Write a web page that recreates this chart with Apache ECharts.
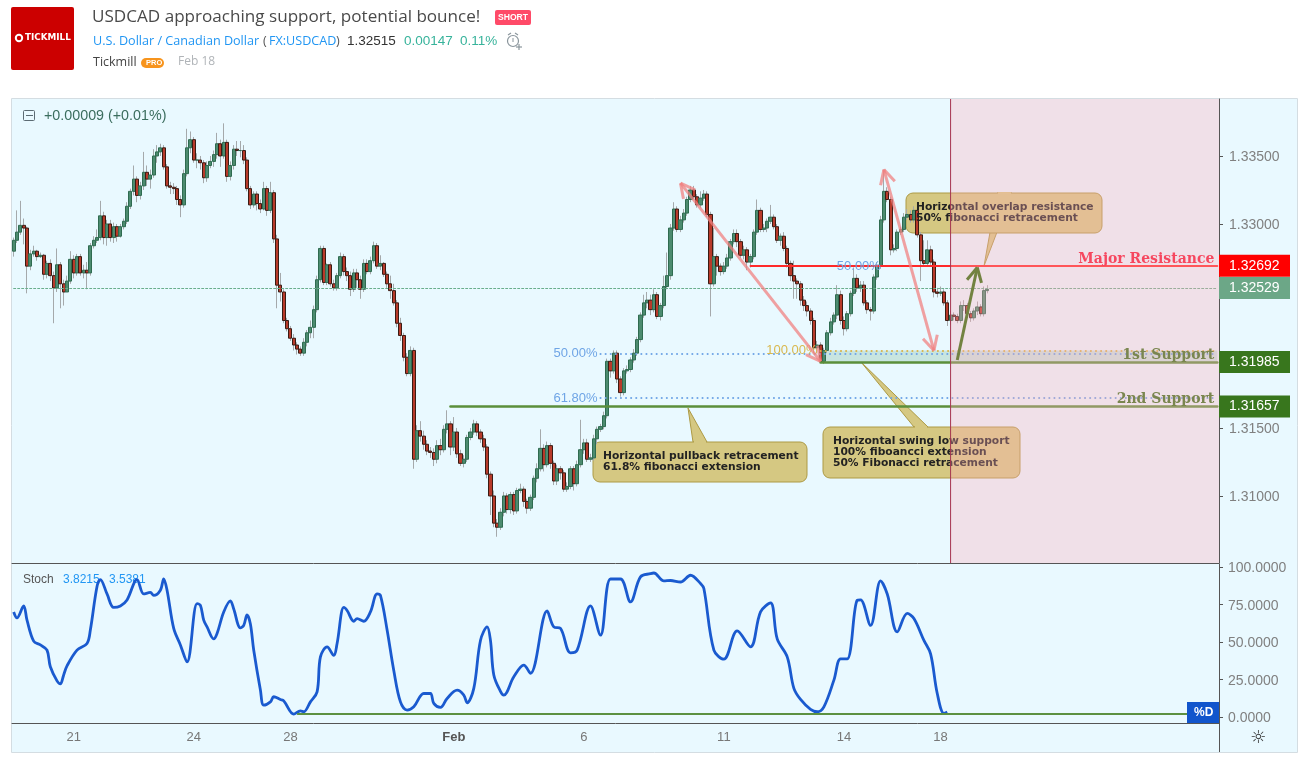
<!DOCTYPE html>
<html>
<head>
<meta charset="utf-8">
<title>USDCAD</title>
<style>html,body{margin:0;padding:0;background:#fff}#main{width:1304px;height:758px}</style>
</head>
<body>
<div id="main"></div>
<script src="https://cdn.jsdelivr.net/npm/echarts@6/dist/echarts.min.js"></script>
<script>
// 2h bars, prices x 10000
var opens = [
13280,13288,13294,13299,13297,13269,13278,13280,13276,13277,
13263,13271,13262,13253,13270,13256,13250,13258,13274,13264,
13276,13264,13266,13264,13284,13288,13290,13306,13290,13300,
13290,13298,13291,13298,13302,13313,13324,13333,13321,13328,
13338,13333,13336,13350,13353,13356,13342,13328,13327,13326,
13318,13314,13337,13356,13362,13347,13347,13345,13334,13343,
13346,13351,13359,13350,13360,13335,13343,13355,13354,13354,
13347,13326,13314,13322,13315,13311,13326,13310,13323,13289,
13255,13250,13229,13223,13216,13211,
13208,13205,13213,13220,13224,13237,13259,13282,13257,13270,
13256,13253,13262,13276,13265,13262,13252,13264,13259,13252,
13271,13265,13273,13284,13269,13271,13263,13256,13251,13242,
13227,13218,13202,13190,13207,13127,13148,13144,13138,13133,
13132,13127,13137,13134,13149,13153,13136,13147,13131,13124,
13127,13143,13147,13153,13147,13142,13136,13116,13100,13080,
13077,13088,13100,13090,13101,13089,13104,13105,13096,13091,
13099,13113,13120,13135,13123,13137,13124,13111,13120,13117,
13105,13107,13120,13109,13123,13134,13139,13127,13128,13142,
13149,13151,13159,
13199,13192,13205,13186,13176,13192,13193,13200,13205,
13215,13233,13242,13244,13237,13248,13232,13240,13254,13262,
13297,13311,13296,13303,13308,13318,13325,13320,13314,13319,
13322,13307,13256,13276,13269,13265,13269,13275,13287,13293,
13287,13277,13281,13272,13276,13294,13310,13296,13297,13302,
13305,13298,13288,13291,13282,13271,13262,13258,13256,13244,
13240,13236,13229,13209,13211,13199,13207,13220,13228,13233,
13248,13229,13223,13234,13249,13260,13253,13255,13242,13237,
13236,13261,13269,13303,13324,13318,13281,13282,13294,13296,
13305,13307,13303,13310,13292,13273,13271,13281,13272,13250,
13249,13250,13242,13229,13233,13232,13229,13240,13240,13234,
13231,13236,13239,13234,13251
];
var closes = [
13288,13294,13299,13297,13269,13278,13280,13276,13277,13263,
13271,13262,13253,13270,13256,13250,13258,13274,13264,13276,
13264,13266,13264,13284,13288,13290,13306,13290,13300,13290,
13298,13291,13298,13302,13313,13324,13333,13321,13328,13338,
13333,13336,13350,13353,13356,13342,13328,13327,13326,13318,
13314,13337,13356,13362,13347,13347,13345,13334,13343,13346,
13351,13359,13350,13360,13335,13343,13355,13354,13354,13347,
13326,13314,13322,13315,13311,13326,13310,13323,13289,13255,
13250,13229,13223,13216,13211,13208,
13205,13213,13220,13224,13237,13259,13282,13257,13270,13256,
13253,13262,13276,13265,13262,13252,13264,13259,13252,13271,
13265,13273,13284,13269,13271,13263,13256,13251,13242,13227,
13218,13202,13190,13207,13127,13148,13144,13138,13133,13132,
13127,13137,13134,13149,13153,13136,13147,13131,13124,13127,
13143,13147,13153,13147,13142,13136,13116,13100,13080,13077,
13088,13100,13090,13101,13089,13104,13105,13096,13091,13099,
13113,13120,13135,13123,13137,13124,13111,13120,13117,13105,
13107,13120,13109,13123,13134,13139,13127,13128,13142,13149,
13151,13159,13199,
13192,13205,13186,13176,13192,13193,13200,13205,13215,
13233,13242,13244,13237,13248,13232,13240,13254,13262,13297,
13311,13296,13303,13308,13318,13325,13320,13314,13319,13322,
13307,13256,13276,13269,13265,13269,13275,13287,13293,13287,
13277,13281,13272,13276,13294,13310,13296,13297,13302,13305,
13298,13288,13291,13282,13271,13262,13258,13256,13244,13240,
13236,13229,13209,13211,13199,13207,13220,13228,13233,13248,
13229,13223,13234,13249,13260,13253,13255,13242,13237,13236,
13261,13269,13303,13324,13318,13281,13282,13294,13296,13305,
13307,13303,13310,13292,13273,13271,13281,13272,13250,13249,
13250,13242,13229,13233,13232,13229,13240,13240,13234,13231,
13236,13239,13234,13251,13252
];
var lows = [
13276,13286,13292,13285,13249,13266,13276,13273,13275,13259,
13260,13258,13227,13250,13238,13240,13254,13256,13260,13262,
13262,13260,13252,13262,13282,13286,13288,13285,13284,13287,
13286,13287,13290,13296,13300,13311,13321,13316,13318,13325,
13328,13326,13334,13345,13350,13340,13326,13322,13322,13314,
13305,13312,13335,13352,13345,13341,13340,13330,13331,13341,
13342,13348,13342,13348,13331,13332,13340,13350,13349,13344,
13324,13311,13312,13310,13308,13310,13306,13308,13286,13238,
13243,13227,13221,13214,13207,13204,
13203,13203,13210,13216,13216,13235,13257,13255,13255,13254,
13251,13251,13260,13262,13258,13247,13250,13253,13245,13250,
13263,13263,13271,13267,13266,13261,13253,13245,13240,13224,
13214,13199,13188,13188,13120,13125,13140,13134,13130,13128,
13122,13124,13130,13132,13146,13130,13133,13128,13122,13121,
13125,13141,13145,13144,13139,13133,13113,13086,13077,13070,
13075,13085,13087,13087,13086,13087,13102,13092,13087,13089,
13097,13110,13118,13118,13121,13120,13108,13108,13112,13103,
13103,13105,13104,13107,13121,13131,13125,13125,13126,13138,
13147,13149,13157,
13187,13190,13183,13173,13174,13190,13191,13198,13203,
13213,13231,13238,13233,13235,13230,13229,13238,13252,13259,
13295,13294,13294,13301,13306,13316,13318,13312,13312,13317,
13305,13232,13254,13262,13262,13263,13267,13273,13285,13283,
13275,13274,13266,13268,13274,13292,13294,13294,13294,13300,
13296,13286,13284,13280,13268,13258,13245,13245,13240,13236,
13232,13226,13205,13205,13198,13197,13205,13218,13226,13230,
13226,13218,13221,13232,13247,13250,13250,13240,13234,13229,
13234,13259,13267,13301,13316,13277,13279,13280,13292,13294,
13303,13301,13301,13290,13258,13269,13269,13270,13246,13246,
13247,13240,13225,13226,13229,13227,13227,13236,13231,13228,
13229,13233,13232,13232,13249
];
var highs = [
13290,13310,13317,13304,13298,13281,13284,13281,13279,13278,
13273,13274,13265,13282,13272,13259,13262,13280,13277,13278,
13278,13270,13272,13286,13291,13296,13317,13309,13303,13303,
13301,13300,13300,13304,13316,13326,13343,13335,13331,13353,
13343,13340,13355,13358,13359,13358,13344,13331,13330,13328,
13321,13340,13370,13368,13364,13352,13350,13347,13346,13350,
13354,13367,13362,13374,13362,13346,13358,13361,13361,13358,
13349,13328,13324,13324,13318,13331,13328,13331,13325,13292,
13264,13252,13231,13225,13219,13213,
13210,13216,13222,13229,13240,13262,13284,13284,13271,13272,
13259,13264,13279,13278,13268,13265,13267,13267,13262,13274,
13274,13276,13287,13286,13277,13272,13265,13262,13256,13244,
13231,13220,13205,13210,13209,13152,13155,13148,13141,13136,
13135,13141,13142,13152,13163,13155,13158,13150,13134,13130,
13145,13150,13156,13155,13149,13145,13138,13118,13104,13083,
13091,13103,13102,13103,13103,13106,13109,13107,13098,13101,
13115,13124,13149,13138,13140,13139,13126,13123,13122,13119,
13110,13122,13122,13126,13156,13142,13142,13131,13145,13151,
13153,13162,13201,
13201,13207,13207,13188,13194,13196,13202,13208,13217,
13235,13248,13250,13248,13252,13250,13242,13262,13279,13300,
13316,13313,13306,13311,13320,13328,13328,13322,13324,13325,
13324,13309,13297,13278,13271,13272,13278,13289,13296,13296,
13289,13284,13283,13278,13296,13318,13312,13300,13304,13314,
13307,13300,13293,13294,13284,13273,13273,13260,13258,13247,
13243,13238,13231,13214,13213,13209,13222,13231,13235,13255,
13251,13232,13236,13251,13268,13263,13258,13258,13244,13239,
13263,13272,13306,13340,13327,13320,13285,13296,13298,13308,
13311,13310,13313,13312,13294,13288,13288,13284,13274,13253,
13254,13252,13244,13236,13235,13234,13243,13244,13242,13236,
13238,13243,13241,13254,13255
];

// stochastic %D
var stochIdx = [
0,1,3,4,6,8,10,11,13,14,15,16,19,22,23,25,26,28,30,32,34,37,39,41,42,44,45,46,48,50,
52,55,56,57,58,60,61,63,65,66,68,69,70,71,72,74,75,77,78,80,81,84,86,87,89,91,92,94,96,97,
99,100,102,103,105,107,109,110,112,114,116,118,120,123,125,126,128,130,133,135,136,138,140,142,143,144,146,147,
150,153,155,160,162,164,167,169,173,176,179,182,185,188,191,192,195,197,200,203,206,207,210,213,217,221,224,227,229,232,234,236,
239,241,243,246,248,250,253,254,257,260,262,265,268,270,273,275,277,279,280
];
var stochVal = [
70,66,74,64.5,50.5,48,44.5,33.4,24,22,28,34,44.5,49,58,87,91.6,82,73,74,78,91.6,82,83,81,84.5,92,84.5,59,48,
36.7,75.6,74.5,64.5,60,52,55.6,70,77.4,72,59.4,61,68,62,44.5,18,7.8,10,13.4,11.6,10.7,1.8,4,3.4,10,16.7,40,46.7,41,49,
73,71,63.8,65.6,63.8,70,82,81,58,31,10,4.5,6.7,15.6,15.6,9,6.3,12.3,17.8,14.5,9.4,19,51,60,51,28,17,14.5,
26.7,34.5,29,70.7,60,59,42.7,44.5,74,54.5,92,92,76.7,93.4,95.6,96,90.7,91,90,94.5,89,85.6,44.5,38.5,57.4,46.7,70,76,52,40,19,11.6,
5,3.4,6.7,24.5,38.7,38.7,77.8,78,61,90.7,82,56.7,69,65.6,51,42,15.6,2.3,3.2
];

var barCount = 362;
var dateTickIdx = [18, 54, 83, 132, 171, 213, 249, 278];
var dateTickText = ['21', '24', '28', 'Feb', '6', '11', '14', '18'];
var priceTicks = [1.31, 1.315, 1.33, 1.335];
var stochTicks = [0, 25, 50, 75, 100];

var majorResistance = 1.32692, lastPrice = 1.32529, firstSupport = 1.31985, secondSupport = 1.31657;
var fib50Low = 1.32045, fib618Low = 1.31720, fib50High = 1.32690, ext100 = 1.32070;
var stochFloor = 2;
var priceMin = 1.30507, priceMax = 1.33919;
var shadeStart = 281;

// trend arrows: from bar, from price, to bar, to price, double headed
var arrowA = [200, 1.3330, 242, 1.3199, 1];
var arrowB = [261, 1.3340, 276, 1.3207, 1];
var arrowC = [283, 1.3200, 289, 1.3268, 0];

var categories = [];
var tickText = {};
dateTickIdx.forEach(function (d, i) { tickText[d] = dateTickText[i]; });
for (var b = 0; b < barCount; b++) categories.push(String(b));

var wickData = [], bodyData = [];
closes.forEach(function (c, i) {
    var o = opens[i] / 10000, cl = c / 10000;
    wickData.push([o, cl, lows[i] / 10000, highs[i] / 10000]);
    bodyData.push([o, cl, Math.min(o, cl), Math.max(o, cl)]);
});

var LABEL_FONT = '"Liberation Sans", Arial, sans-serif';
var NOTE_FONT = '"DejaVu Sans", Verdana, sans-serif';
var HEAD_FONT = '"Open Sans", sans-serif';
var BG = '#E9F9FF';

function level(from, price, color, width, type, label) {
    return [{
        coord: [from, price],
        lineStyle: { color: color, width: width, type: type, cap: 'round', opacity: 1 },
        label: label || { show: false }
    }, { coord: [barCount - 1, price] }];
}
function startLabel(text, color) {
    return { show: true, formatter: text, position: 'start', color: color, fontSize: 13, fontFamily: LABEL_FONT, distance: 3 };
}
function endLabel(text, color) {
    return { show: true, formatter: text, position: 'insideEndTop', color: color, fontSize: 14, fontWeight: 'bold', fontFamily: '"DejaVu Serif", serif', distance: 0, padding: [0, 3, 0, 0] };
}

function txt(x, y, text, fill, font, z) {
    return { type: 'text', x: x, y: y, z: z || 3, silent: true,
        style: { text: text, fill: fill, font: font, verticalAlign: 'middle', textVerticalAlign: 'middle' } };
}
function line(x1, y1, x2, y2, color, w, z) {
    return { type: 'line', z: z || 3, silent: true, shape: { x1: x1, y1: y1, x2: x2, y2: y2 }, style: { stroke: color, lineWidth: w } };
}
function callout(x, y, w, h, tip, b1, b2, lines) {
    var fill = '#D5C882', edge = '#AD9A45';
    var els = [
        { type: 'polygon', z: 1, silent: true, shape: { points: [tip, [b1, y], [b2, y]] }, style: { fill: fill, stroke: edge, lineWidth: 1 } },
        { type: 'rect', z: 1, silent: true, shape: { x: x, y: y, width: w, height: h, r: 7 }, style: { fill: fill, stroke: edge, lineWidth: 1 } },
        line(b1 + 1, y, b2 - 1, y, fill, 2, 1)
    ];
    lines.forEach(function (t, i) {
        els.push(txt(x + 10, y + 14 + i * 11, t, '#222', 'bold 10.7px ' + NOTE_FONT, 5));
    });
    return els;
}

var graphics = [
    { type: 'rect', z: -1, silent: true, shape: { x: 11.5, y: 98.5, width: 1286, height: 654 }, style: { fill: BG, stroke: '#D4DDE2', lineWidth: 1 } },
    // header
    { type: 'rect', silent: true, shape: { x: 11, y: 7, width: 63, height: 63, r: 2 }, style: { fill: '#CC0000' } },
    { type: 'circle', silent: true, shape: { cx: 19, cy: 38, r: 3.2 }, style: { fill: 'none', stroke: '#fff', lineWidth: 2 } },
    txt(25, 38, 'TICKMILL', '#fff', 'bold 8.8px ' + NOTE_FONT),
    txt(92, 17, 'USDCAD approaching support, potential bounce!', '#4A4A4A', '17.1px ' + HEAD_FONT),
    { type: 'rect', silent: true, shape: { x: 495, y: 10, width: 36, height: 15, r: 2 }, style: { fill: '#FF4A68' } },
    txt(498, 17.5, 'SHORT', '#fff', 'bold 8.6px ' + LABEL_FONT),
    txt(93, 41, 'U.S. Dollar / Canadian Dollar', '#2196F3', '12.6px ' + HEAD_FONT),
    txt(263, 41, '(', '#555', '12.6px ' + HEAD_FONT),
    txt(269, 41, 'FX:USDCAD', '#2196F3', '12.6px ' + HEAD_FONT),
    txt(336, 41, ')', '#555', '12.6px ' + HEAD_FONT),
    txt(347, 41, '1.32515', '#333', '13.5px ' + LABEL_FONT),
    txt(404, 41, '0.00147', '#37B39B', '13.5px ' + LABEL_FONT),
    txt(460, 41, '0.11%', '#37B39B', '13.5px ' + LABEL_FONT),
    { type: 'circle', silent: true, shape: { cx: 513, cy: 41, r: 5.5 }, style: { fill: 'none', stroke: '#8A959C', lineWidth: 1.2 } },
    line(508, 35, 511, 33, '#8A959C', 1.2),
    line(515, 33, 518, 35, '#8A959C', 1.2),
    line(513, 38, 513, 42, '#8A959C', 1),
    line(516, 47, 522, 47, '#8A959C', 1.2),
    line(519, 44, 519, 50, '#8A959C', 1.2),
    txt(93, 62, 'Tickmill', '#444', '12.5px ' + HEAD_FONT),
    { type: 'rect', silent: true, shape: { x: 141, y: 58, width: 23, height: 10, r: 5 }, style: { fill: '#F7941D' } },
    txt(146, 63, 'PRO', '#fff', 'bold 7.5px ' + LABEL_FONT),
    txt(178, 62, 'Feb 18', '#B0B4B8', '12px ' + HEAD_FONT),
    // pane legends
    { type: 'rect', silent: true, z: 3, shape: { x: 23.5, y: 110.5, width: 11, height: 10, r: 1 }, style: { fill: 'none', stroke: '#5C6B73', lineWidth: 1 } },
    line(26, 115.5, 33, 115.5, '#5C6B73', 1),
    txt(44, 116, '+0.00009 (+0.01%)', '#3B6D5E', '14.3px ' + LABEL_FONT),
    txt(23, 580, 'Stoch', '#555', '12px ' + LABEL_FONT),
    txt(63, 580, '3.8215', '#2196F3', '12px ' + LABEL_FONT),
    txt(109, 580, '3.5381', '#2196F3', '12px ' + LABEL_FONT),
    { type: 'rect', silent: true, z: 6, shape: { x: 1187, y: 702, width: 32, height: 21 }, style: { fill: '#1155CC' } },
    txt(1194, 712.5, '%D', '#fff', 'bold 12px ' + LABEL_FONT, 7),
    line(1219.5, 723, 1219.5, 752, '#555', 1),
    txt(1250, 738, '\u263C', '#333', '18px "DejaVu Sans"')
].concat(
    callout(906, 193, 196, 40, [984, 266], 997, 1012, ['Horizontal overlap resistance', '50% fibonacci retracement']),
    callout(593, 442, 214, 40, [688, 408], 693, 707, ['Horizontal pullback retracement', '61.8% fibonacci extension']),
    callout(823, 427, 197, 51, [861, 362], 914, 928, ['Horizontal swing low support', '100% fiboancci extension', '50% Fibonacci retracement'])
);

function renderArrow(params, api) {
    var from = api.coord([api.value(0), api.value(1)]);
    var to = api.coord([api.value(2), api.value(3)]);
    var color = params.dataIndex === 2 ? '#2E6D06' : 'rgba(240,130,130,0.75)';
    var style = { stroke: color, lineWidth: 3, fill: 'none' };
    var kids = [{ type: 'line', shape: { x1: from[0], y1: from[1], x2: to[0], y2: to[1] }, style: style }];
    function head(tip, tail) {
        var ang = Math.atan2(tail[1] - tip[1], tail[0] - tip[0]);
        [-0.48, 0.48].forEach(function (d) {
            kids.push({ type: 'line', shape: { x1: tip[0], y1: tip[1], x2: tip[0] + 16 * Math.cos(ang + d), y2: tip[1] + 16 * Math.sin(ang + d) }, style: style });
        });
    }
    head(to, from);
    if (api.value(4)) head(from, to);
    return { type: 'group', children: kids };
}

function renderShade(params, api) {
    var x = api.coord([api.value(0), priceMax])[0];
    var cs = params.coordSys;
    return { type: 'group', children: [
        { type: 'rect', shape: { x: x, y: cs.y, width: cs.x + cs.width - x, height: cs.height }, style: { fill: 'rgba(254,172,185,0.33)' } },
        { type: 'line', shape: { x1: x, y1: cs.y, x2: x, y2: cs.y + cs.height }, style: { stroke: '#A5334F', lineWidth: 1 } }
    ] };
}

var myChart = echarts.init(document.getElementById('main'));
var option = {
    animation: false,
    backgroundColor: '#fff',
    textStyle: { fontFamily: LABEL_FONT },
    graphic: { elements: graphics },
    grid: [
        { left: 12, right: 85, top: 99, height: 464 },
        { left: 12, right: 85, top: 564, height: 159 }
    ],
    xAxis: [
        {
            type: 'category', gridIndex: 0, data: categories, boundaryGap: true,
            axisLine: { onZero: false, lineStyle: { color: '#555' } }, axisTick: { show: false }, axisLabel: { show: false }, splitLine: { show: false }
        },
        {
            type: 'category', gridIndex: 1, data: categories, boundaryGap: true,
            axisLine: { onZero: false, lineStyle: { color: '#555' } },
            axisTick: { length: 4, alignWithLabel: true, lineStyle: { color: '#555' }, interval: function (i) { return tickText[i] !== undefined; } },
            axisLabel: {
                interval: 0, margin: 8, color: '#777', fontSize: 13, hideOverlap: false,
                formatter: function (v) {
                    var t = tickText[v];
                    if (t === undefined) return '';
                    return t === 'Feb' ? '{b|Feb}' : t;
                },
                rich: { b: { fontWeight: 'bold', color: '#555', fontSize: 13 } }
            },
            splitLine: { show: false }
        }
    ],
    yAxis: [
        {
            type: 'value', gridIndex: 0, position: 'right', min: priceMin, max: priceMax, scale: true,
            axisLine: { show: true, lineStyle: { color: '#555' } },
            axisTick: { show: true, length: 4, lineStyle: { color: '#555' }, customValues: priceTicks.concat([lastPrice]) },
            splitLine: { show: false },
            axisLabel: {
                margin: 0, hideOverlap: false,
                customValues: priceTicks.concat([majorResistance, lastPrice, firstSupport, secondSupport]),
                formatter: function (v) {
                    var s = v.toFixed(5);
                    if (v === majorResistance) return '{major|' + s + '}';
                    if (v === lastPrice) return '{last|' + s + '}';
                    if (v === firstSupport || v === secondSupport) return '{sup|' + s + '}';
                    return '{n|' + s + '}';
                },
                rich: {
                    n: { color: '#808080', fontSize: 14, fontFamily: LABEL_FONT, padding: [3, 0, 0, 10] },
                    major: { color: '#fff', fontSize: 14, fontFamily: LABEL_FONT, backgroundColor: '#FF0000', width: 61, height: 22, lineHeight: 22, padding: [0, 0, 0, 10] },
                    last: { color: '#fff', fontSize: 14, fontFamily: LABEL_FONT, backgroundColor: '#6CA787', width: 61, height: 22, lineHeight: 22, padding: [0, 0, 0, 10] },
                    sup: { color: '#fff', fontSize: 14, fontFamily: LABEL_FONT, backgroundColor: '#38761D', width: 61, height: 22, lineHeight: 22, padding: [0, 0, 0, 10] }
                }
            }
        },
        {
            type: 'value', gridIndex: 1, position: 'right', min: -4.1, max: 102,
            axisLine: { show: true, lineStyle: { color: '#555' } },
            axisTick: { show: true, length: 4, lineStyle: { color: '#555' }, customValues: stochTicks },
            splitLine: { show: false },
            axisLabel: {
                margin: 0, hideOverlap: false, customValues: stochTicks,
                formatter: function (v) { return '{n|' + v.toFixed(4) + '}'; },
                rich: { n: { color: '#808080', fontSize: 14, fontFamily: LABEL_FONT, padding: [3, 0, 0, 9] } }
            }
        }
    ],
    series: [
        {
            name: 'wicks', type: 'candlestick', xAxisIndex: 0, yAxisIndex: 0, data: wickData, barWidth: 1, z: 2,
            itemStyle: { color: '#A5A9AB', color0: '#A5A9AB', borderColor: '#A5A9AB', borderColor0: '#A5A9AB', borderWidth: 1 }
        },
        {
            name: 'USDCAD', type: 'candlestick', xAxisIndex: 0, yAxisIndex: 0, data: bodyData, barWidth: 3.6, z: 3,
            itemStyle: { color: '#4C8B6F', color0: '#B83A2A', borderColor: '#2F6B50', borderColor0: '#3A1C14', borderWidth: 1 },
            markArea: {
                silent: true,
                itemStyle: { color: 'rgba(70,150,100,0.2)' },
                data: [[{ coord: [242, ext100] }, { coord: [barCount - 1, firstSupport] }]]
            },
            markLine: {
                silent: true, symbol: 'none', animation: false,
                data: [
                    level(0, lastPrice, '#6AAE8C', 1, [2, 2]),
                    level(176, fib50Low, '#6FA5E6', 2, [0.1, 5], startLabel('50.00%', '#6FA5E6')),
                    level(176, fib618Low, '#6FA5E6', 2, [0.1, 5], startLabel('61.80%', '#6FA5E6')),
                    level(242, ext100, '#D9B44A', 2, [0.1, 5], startLabel('100.00%', '#D9B950')),
                    level(261, fib50High, '#6FA5E6', 2, [0.1, 5], startLabel('50.00%', '#6FA5E6')),
                    level(221, majorResistance, '#FF2A2A', 2, 'solid', endLabel('Major Resistance', '#F21533')),
                    level(242, firstSupport, '#5B8F3B', 2.5, 'solid', endLabel('1st Support', '#39731C')),
                    level(131, secondSupport, '#5B8F3B', 2.5, 'solid', endLabel('2nd Support', '#39731C'))
                ]
            }
        },
        {
            name: 'arrows', type: 'custom', xAxisIndex: 0, yAxisIndex: 0, z: 8, silent: true,
            encode: { x: [0, 2], y: [1, 3] },
            data: [arrowA, arrowB, arrowC],
            renderItem: renderArrow
        },
        {
            name: 'shade', type: 'custom', xAxisIndex: 0, yAxisIndex: 0, z: 20, silent: true,
            encode: { x: 0, y: 1 },
            data: [[shadeStart, priceMax]],
            renderItem: renderShade
        },
        {
            name: 'Stoch', type: 'line', xAxisIndex: 1, yAxisIndex: 1, z: 4,
            data: stochIdx.map(function (x, i) { return [x, stochVal[i]]; }),
            showSymbol: false, smooth: 0.35,
            lineStyle: { color: '#1A5ACF', width: 2.8 },
            markLine: {
                silent: true, symbol: 'none', animation: false, label: { show: false },
                data: [[{ coord: [85, stochFloor], lineStyle: { color: '#5C9141', width: 2, type: 'solid' } }, { coord: [barCount - 1, stochFloor] }]]
            }
        }
    ]
};
myChart.setOption(option);
</script>
</body>
</html>
